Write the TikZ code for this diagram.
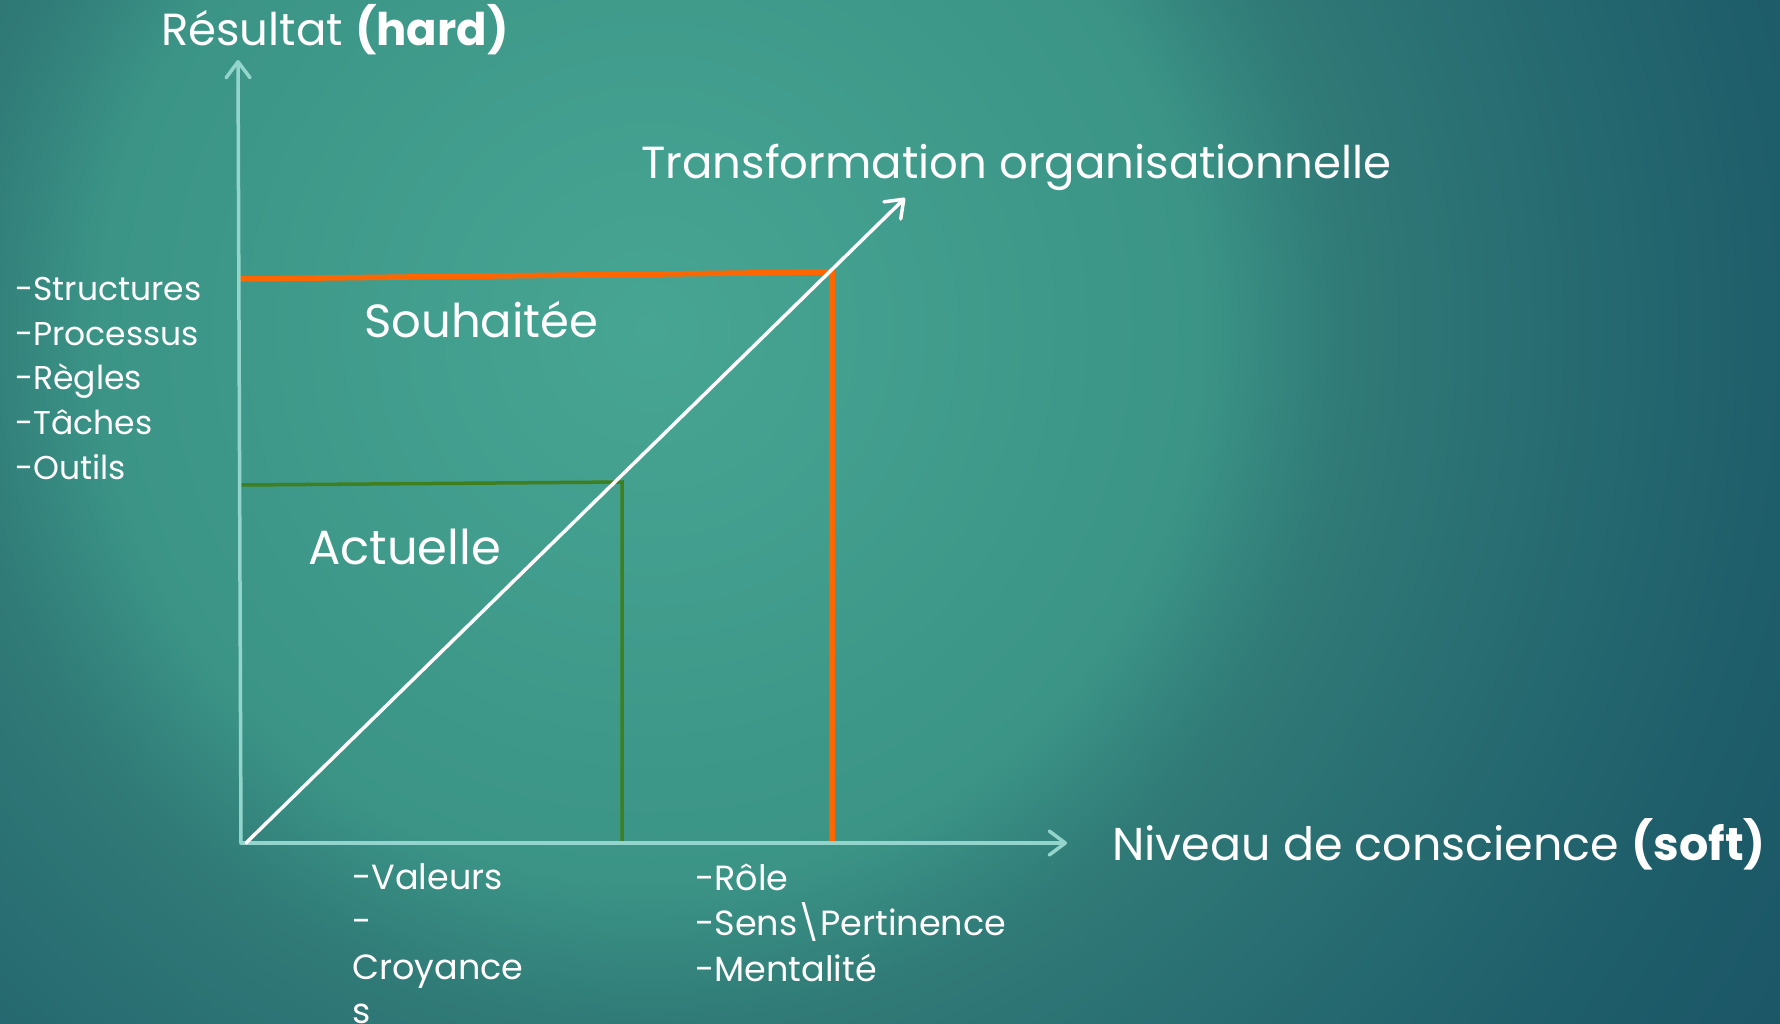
\documentclass[tikz,border=0pt]{standalone}
\usepackage{fontspec}
\setmainfont{Poppins}
\usetikzlibrary{arrows.meta}

\definecolor{bgEdge}{HTML}{1A5264}
\definecolor{bgA}{HTML}{47A593}
\definecolor{bgB}{HTML}{3B9486}
\definecolor{bgC}{HTML}{307A77}
\definecolor{bgD}{HTML}{2B7274}
\definecolor{bgE}{HTML}{1E5D6A}
\definecolor{axisTeal}{HTML}{93D4CC}
\definecolor{hardOrange}{HTML}{FF6600}
\definecolor{nowGreen}{HTML}{3F7F1F}

% soft teal backdrop, brightest left of centre
% (the 25bp radius is stretched to the radius of the shaded circle)
\pgfdeclareradialshading{tealbg}{\pgfpointorigin}{%
  color(0bp)=(bgA); color(9.5bp)=(bgB); color(12bp)=(bgC);
  color(14bp)=(bgD); color(19.65bp)=(bgE); color(25bp)=(bgEdge);
  color(50bp)=(bgEdge)}

\tikzset{
  axisline/.style={draw=axisTeal, line width=3.5pt, line cap=round,
    -{Straight Barb[length=16pt,width=24pt,round]}},
  trendline/.style={draw=white, line width=3.5pt, line cap=round,
    -{Straight Barb[length=16pt,width=24pt,round]}},
  levelhard/.style={draw=hardOrange, line width=5.5pt},
  levelnow/.style={draw=nowGreen, line width=3.5pt},
  lbl/.style={text=white, inner sep=0pt, anchor=base west},
  listtxt/.style={lbl, font=\fontsize{35}{45}\selectfont},
  sidetxt/.style={lbl, font=\fontsize{33}{45}\selectfont},
}

\begin{document}
\begin{tikzpicture}[x=1pt, y=-1pt]
  \useasboundingbox (0,0) rectangle (1780,1023);
  \begin{scope}
    \clip (0,0) rectangle (1780,1023);
    \fill[bgEdge] (0,0) rectangle (1780,1023);
    \shade[shading=tealbg] (650,330) circle (1450pt);

    % key points of the chart
    \coordinate (O) at (241,843);
    \coordinate (yTip) at (238,60);
    \coordinate (xTip) at (1067,843);
    \coordinate (dStart) at (246,843);
    \coordinate (dTip) at (905,198);
    \coordinate (hardL) at (238,279);
    \coordinate (hardC) at (832,272);
    \coordinate (hardB) at (832,843);
    \coordinate (nowL) at (241,485);
    \coordinate (nowC) at (622,482);
    \coordinate (nowB) at (622,843);

    % desired and current levels
    \draw[levelhard] (hardL) -- (hardC) -- (hardB);
    \draw[levelnow] (nowL) -- (nowC) -- (nowB);

    % axes
    \draw[axisline] (O) -- (yTip);
    \draw[axisline] (O) -- (xTip);

    % transformation path
    \draw[trendline] (dStart) -- (dTip);

    % labels
    \node[lbl, font=\fontsize{45}{54}\selectfont] (ytitle) at (161,45)
      {Résultat {\bfseries (hard)}};
    \node[lbl, font=\fontsize{45}{54}\selectfont] (dtitle) at (641,178)
      {Transformation organisationnelle};
    \node[lbl, font=\fontsize{46.5}{56}\selectfont] (souh) at (364,337) {Souhaitée};
    \node[lbl, font=\fontsize{48}{58}\selectfont] (actu) at (308,564) {Actuelle};
    \node[lbl, font=\fontsize{46}{56}\selectfont] (xtitle) at (1112,860)
      {Niveau de conscience {\bfseries (soft)}};

    \node[sidetxt] (h1) at (15,300) {-Structures};
    \node[sidetxt] (h2) at (15,345) {-Processus};
    \node[sidetxt] (h3) at (15,389) {-Règles};
    \node[sidetxt] (h4) at (15,434) {-Tâches};
    \node[sidetxt] (h5) at (15,479) {-Outils};

    \node[listtxt] (v1) at (352,889) {-Valeurs};
    \node[listtxt] (v2) at (352,933) {-};
    \node[listtxt] (v3) at (352,979) {Croyance};
    \node[listtxt] (v4) at (352,1023) {s};

    \node[listtxt] (r1) at (695,890) {-Rôle};
    \node[listtxt] (r2) at (695,935) {-Sens\textbackslash Pertinence};
    \node[listtxt] (r3) at (695,981) {-Mentalité};
  \end{scope}
\end{tikzpicture}
\end{document}
